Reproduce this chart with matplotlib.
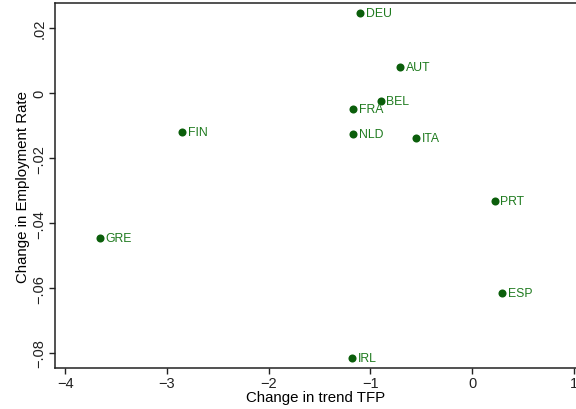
import matplotlib
matplotlib.use("Agg")
import matplotlib.pyplot as plt
from matplotlib.ticker import FuncFormatter

countries = ["DEU", "AUT", "BEL", "FRA", "NLD", "ITA", "FIN", "GRE", "PRT", "ESP", "IRL"]
tfp_change = [-1.10, -0.71, -0.90, -1.17, -1.17, -0.55, -2.85, -3.66, 0.22, 0.29, -1.18]
emp_change = [0.0246, 0.0080, -0.0025, -0.0049, -0.0126, -0.0138, -0.0120, -0.0446, -0.0332, -0.0615, -0.0815]

x_ticks = [-4, -3, -2, -1, 0, 1]
y_ticks = [0.02, 0, -0.02, -0.04, -0.06, -0.08]

plt.rcParams["font.family"] = ["Liberation Sans", "DejaVu Sans"]

fig = plt.figure(figsize=(5.76, 4.10), dpi=100)
ax = fig.add_axes([0.0955, 0.1, 0.9045, 0.89])

ax.plot(tfp_change, emp_change, "o", color="#0b5e0b", ms=5.8, mec="none", clip_on=False)
for name, xv, yv in zip(countries, tfp_change, emp_change):
    ax.annotate(name, (xv, yv), xytext=(4.2, 0), textcoords="offset points",
                va="center", ha="left", fontsize=8.8, color="#1e7a1e")

ax.set_xlim(-4.10, 1.02)
ax.set_ylim(-0.0846, 0.0277)
ax.set_xticks(x_ticks)
ax.set_yticks(y_ticks)


def fmt_y(v, pos):
    if abs(v) < 1e-9:
        return "0"
    s = f"{v:.2f}".replace("0.", ".")
    return s.replace("-", "\u2212")


ax.yaxis.set_major_formatter(FuncFormatter(fmt_y))
ax.xaxis.set_major_formatter(FuncFormatter(lambda v, p: f"{v:g}".replace("-", "\u2212")))
for lab in ax.get_yticklabels():
    lab.set_rotation(90)
    lab.set_va("center")

ax.tick_params(direction="out", length=4, width=1, labelsize=10.5, colors="#222222", pad=2)
ax.spines["right"].set_visible(False)
for s in ["left", "bottom", "top"]:
    ax.spines[s].set_linewidth(1.1)
    ax.spines[s].set_color("#222222")

ax.set_xlabel("Change in trend TFP", fontsize=10.8, labelpad=0)
ax.set_ylabel("Change in Employment Rate", fontsize=10.8, labelpad=2)

fig.savefig("out.png", dpi=100)
